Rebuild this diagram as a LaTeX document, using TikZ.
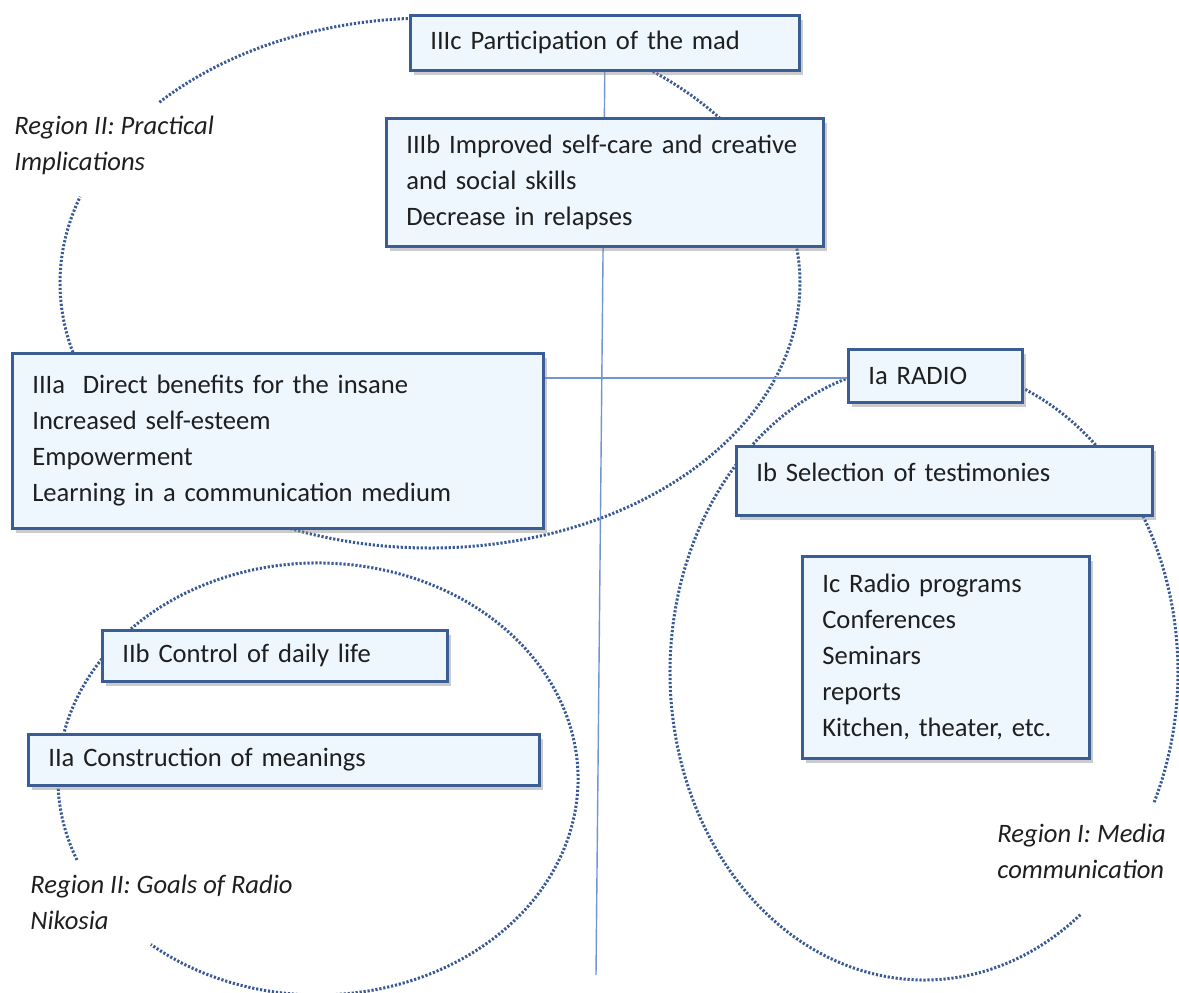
\documentclass[tikz,border=0pt]{standalone}
\usepackage{fontspec}
\setmainfont{Carlito}
\usetikzlibrary{shadows}
\definecolor{bxborder}{HTML}{3A5E93}
\definecolor{bxfill}{HTML}{EEF6FE}
\definecolor{dotc}{HTML}{3A5A94}
\definecolor{linec}{HTML}{7094D4}
\pgfdeclarelayer{bg}
\pgfsetlayers{bg,main}
\hyphenpenalty=10000
\begin{document}
\begin{tikzpicture}[x=0.5pt,y=-0.5pt,
  bx/.style={draw=bxborder, line width=1.3pt, fill=bxfill, anchor=north west,
    inner xsep=10pt, inner ysep=0pt, align=left, text=black!88,
    font=\fontsize{13.3}{18}\selectfont,
    drop shadow={shadow xshift=1.8pt, shadow yshift=-2.2pt, fill=black!45, opacity=0.45}},
  dotl/.style={draw=dotc, line width=1.5pt, dash pattern=on 1.1pt off 0.9pt},
  thin/.style={draw=linec, line width=0.7pt},
  lbl/.style={anchor=west, align=left, inner sep=0pt, text=black!88,
    font=\fontsize{13.3}{18}\selectfont\itshape}]
\useasboundingbox (0,0) rectangle (1179,992);
\clip (0,0) rectangle (1179,992);

% boxes
\node[bx, minimum width=194.5pt, text width=174.5pt, minimum height=27.5pt] (IIIc) at (409,14) {IIIc Participation of the mad};
\node[bx, minimum width=218.5pt, text width=198.5pt, minimum height=64pt] (IIIb) at (385,117) {\mbox{IIIb Improved self-care and creative}\\and social skills\\Decrease in relapses};
\node[bx, minimum width=265.5pt, text width=245.5pt, minimum height=87.5pt] (IIIa) at (11,352) {IIIa~ Direct benefits for the insane\\Increased self-esteem\\Empowerment\\Learning in a communication medium};
\node[bx, minimum width=87pt, text width=67pt, minimum height=26.5pt] (Ia) at (847,348) {Ia RADIO};
\node[bx, minimum width=208pt, text width=188pt, minimum height=34.5pt] (Ib) at (735,445) {\raisebox{3pt}[0.7em][0.2em]{Ib Selection of testimonies}};
\node[bx, minimum width=143.5pt, text width=123.5pt, minimum height=101pt] (Ic) at (801,555) {Ic Radio programs\\Conferences\\Seminars\\reports\\Kitchen, theater, etc.};
\node[bx, minimum width=172.5pt, text width=152.5pt, minimum height=25.5pt] (IIb) at (101,629) {IIb Control of daily life};
\node[bx, minimum width=255.5pt, text width=235.5pt, minimum height=25.5pt] (IIa) at (27,733) {IIa Construction of meanings};

% region labels
\node[lbl] (r2p) at (14,145) {Region II: Practical\\Implications};
\node[lbl] (r2g) at (30,902) {Region II: Goals of Radio\\Nikosia};
\node[lbl] (r1) at (997,851) {Region I: Media\\communication};

\coordinate (bottom) at (596,975);
\coordinate (hline) at (542,378);

\begin{pgfonlayer}{bg}
  % region outlines
  \draw[dotl] (430,283) ++(-137:370 and 265) arc[start angle=-137, end angle=199, x radius=370, y radius=265];
  \draw[dotl] (924,672) ++(52:254 and 308) arc[start angle=52, end angle=385, x radius=254, y radius=308];
  \draw[dotl] (318,779) ++(158:260 and 216) arc[start angle=158, end angle=490, x radius=260, y radius=216];
  % axes
  \draw[thin] (IIIc.south) -- (bottom);
  \draw[thin] (IIIa.east |- hline) -- (Ia.west |- hline);
\end{pgfonlayer}
\end{tikzpicture}
\end{document}
